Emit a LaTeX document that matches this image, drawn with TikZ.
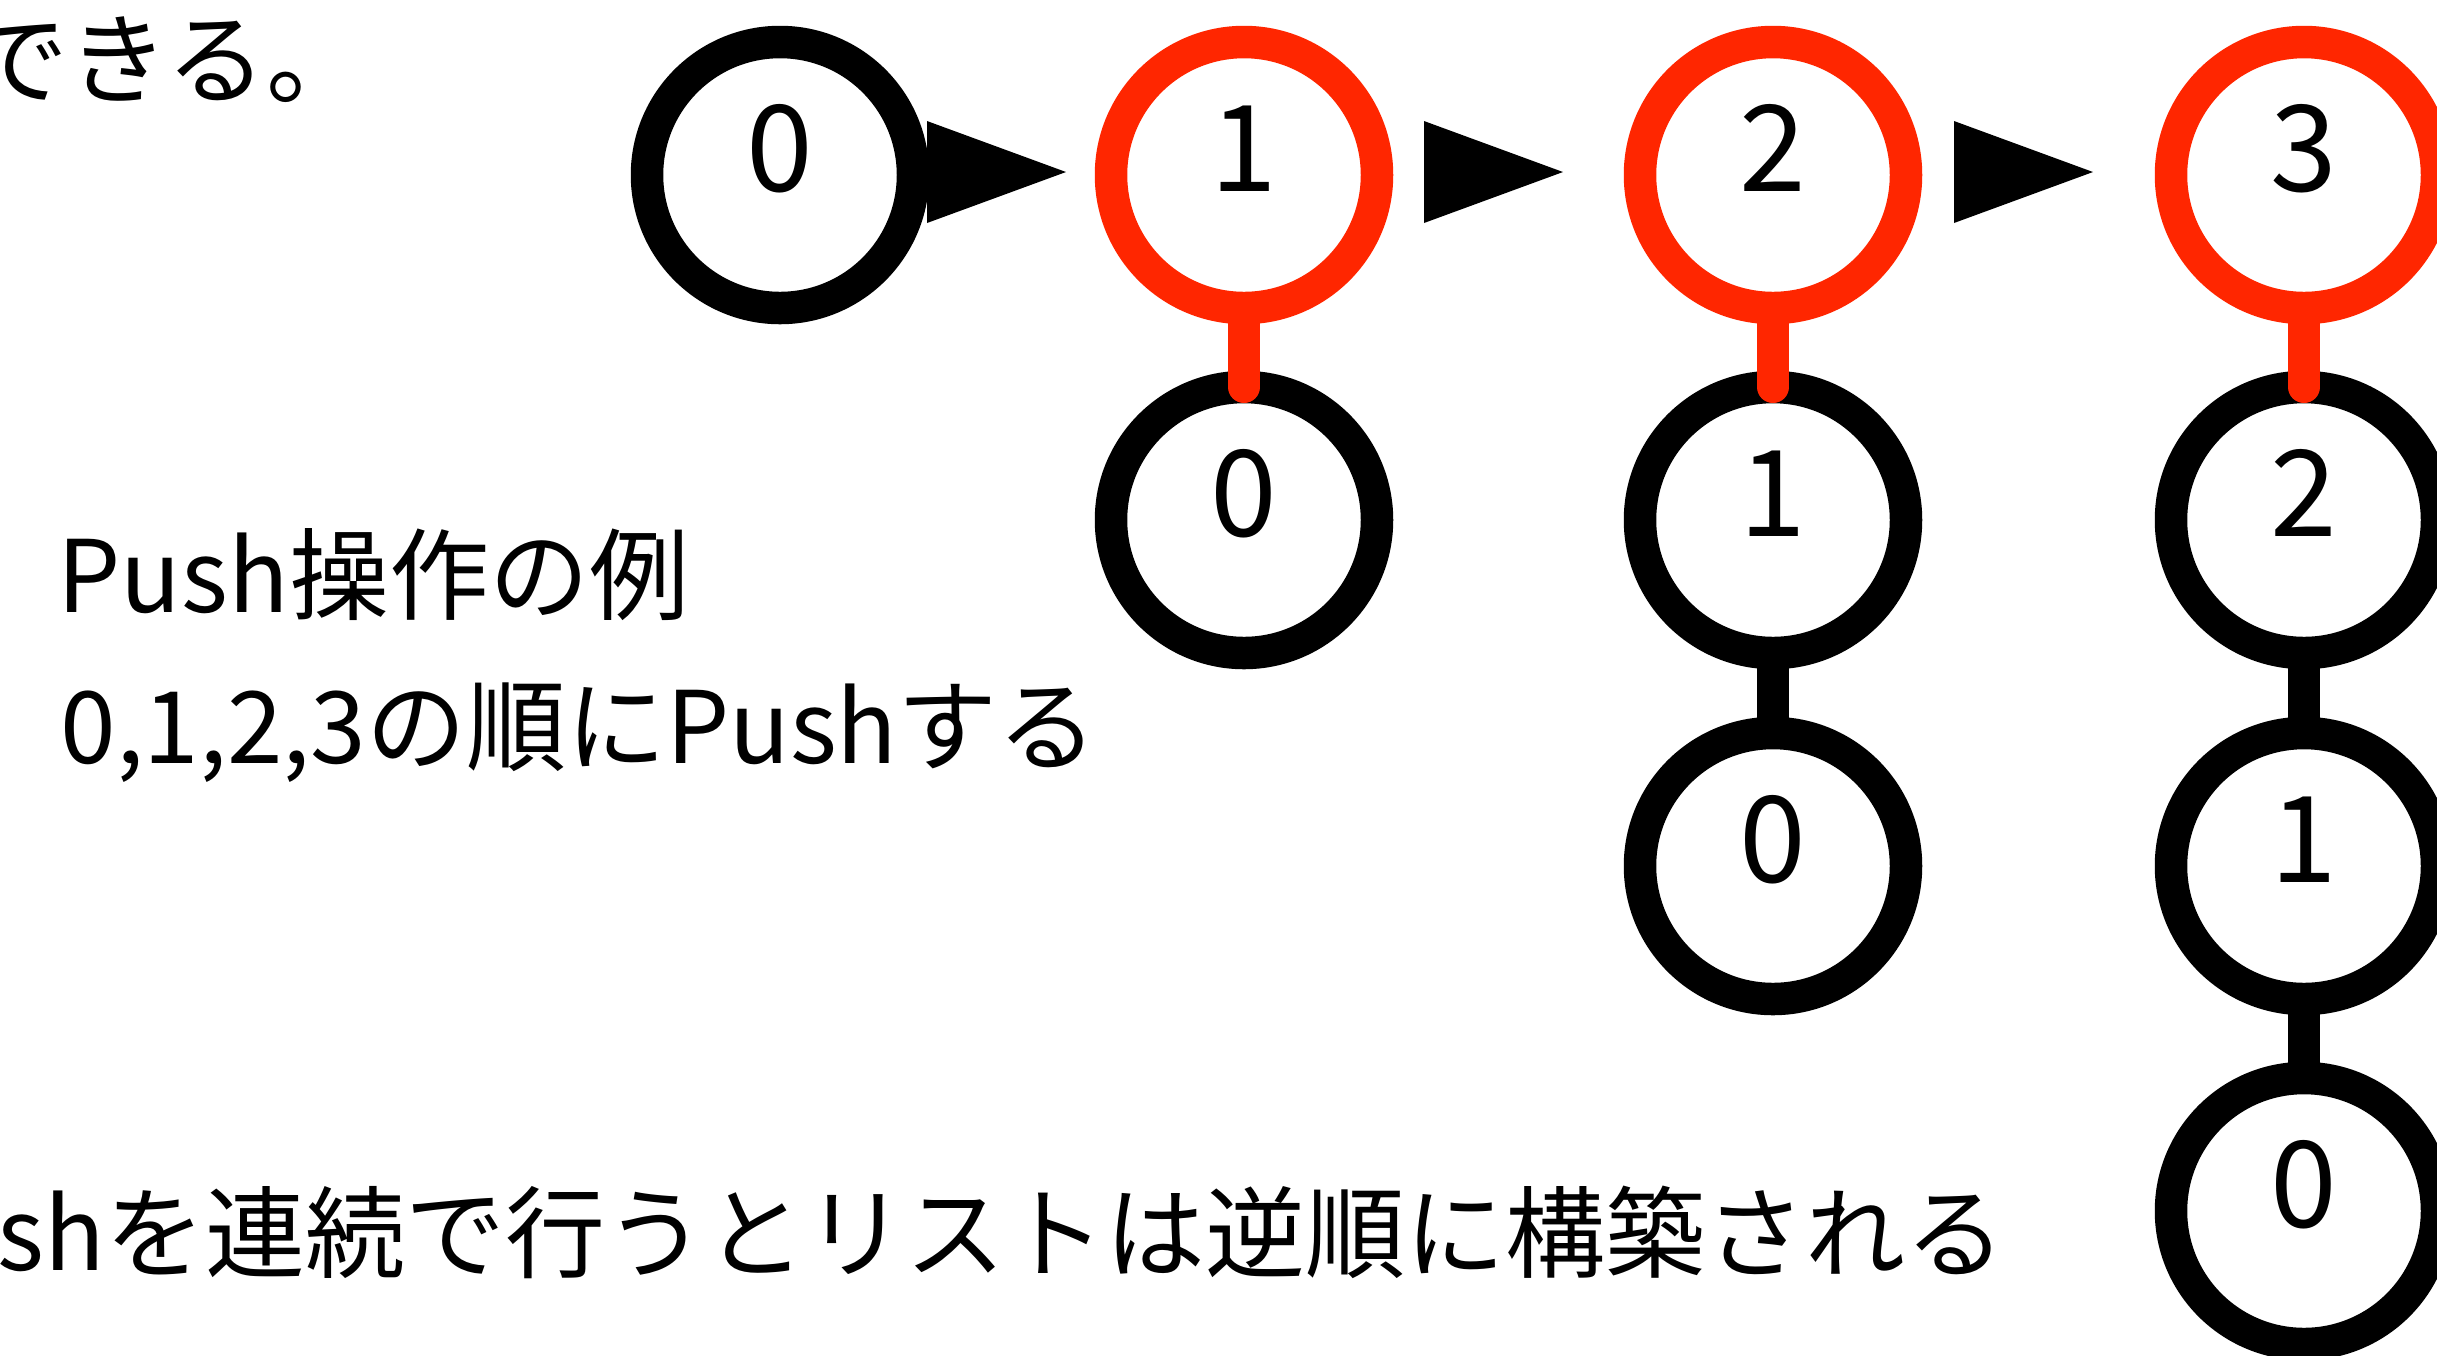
\documentclass[tikz,border=0pt]{standalone}
\usepackage{fontspec}
\setmainfont{Noto Sans CJK JP}
\definecolor{pushred}{RGB}{255,38,0}
\newcommand{\ringdigit}[1]{\smash{\raisebox{-4.8pt}{#1}}}
\begin{document}
\begin{tikzpicture}[x=0.3pt,y=-0.3pt,
  ring/.style={circle, draw=black, line width=9.75pt, minimum size=79.8pt, inner sep=0pt, outer sep=0pt, font=\fontsize{36}{36}\selectfont},
  topring/.style={ring, draw=pushred},
  redlink/.style={draw=pushred, line width=9.6pt, line cap=round},
  blacklink/.style={draw=black, line width=9.6pt},
  arrowfill/.style={fill=black},
  txt/.style={anchor=base west, inner sep=0pt, font=\fontsize{30}{36}\selectfont},
]
\clip (0,0) rectangle (2437,1355);
\fill[white] (0,0) rectangle (2437,1355);

% texts
\node[txt] (t1) at (-32,96) {できる。};
\node[txt] (t2) at (57,612) {Push操作の例};
\node[txt] (t3) at (60,763) {0,1,2,3の順にPushする};
\node[txt] (t4) at (-3,1270) {shを連続で行うとリストは逆順に構築される};

% lists
\node[ring] (a0) at (780,175) {\ringdigit{0}};

\node[topring] (b1) at (1244,175) {\ringdigit{1}};
\node[ring] (b0) at (1244,520) {\ringdigit{0}};

\node[topring] (c2) at (1773,175) {\ringdigit{2}};
\node[ring] (c1) at (1773,520) {\ringdigit{1}};
\node[ring] (c0) at (1773,866) {\ringdigit{0}};

\node[topring] (d3) at (2304,175) {\ringdigit{3}};
\node[ring] (d2) at (2304,520) {\ringdigit{2}};
\node[ring] (d1) at (2304,866) {\ringdigit{1}};
\node[ring] (d0) at (2304,1211) {\ringdigit{0}};

% links
\draw[blacklink] (c1.south) -- (c0.north);
\draw[blacklink] (d2.south) -- (d1.north);
\draw[blacklink] (d1.south) -- (d0.north);
\draw[redlink] (b1.south) -- (b0.north);
\draw[redlink] (c2.south) -- (c1.north);
\draw[redlink] (d3.south) -- (d2.north);

% push arrows
\fill[arrowfill] ([xshift=4.2pt,yshift=0.9pt]a0.east) -- ++(0,-51) -- ++(139,51) -- ++(-139,51) -- cycle;
\fill[arrowfill] ([xshift=14.1pt,yshift=0.9pt]b1.east) -- ++(0,-51) -- ++(139,51) -- ++(-139,51) -- cycle;
\fill[arrowfill] ([xshift=14.4pt,yshift=0.9pt]c2.east) -- ++(0,-51) -- ++(139,51) -- ++(-139,51) -- cycle;
\end{tikzpicture}
\end{document}
